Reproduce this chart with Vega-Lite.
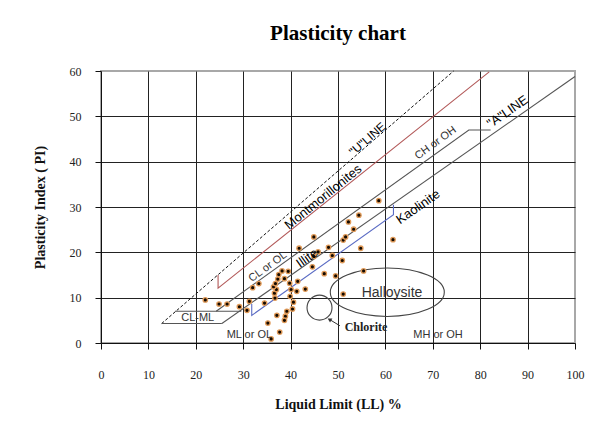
{
  "$schema": "https://vega.github.io/schema/vega-lite/v6.json",
  "width": 474,
  "height": 272,
  "autosize": {"type": "none"},
  "padding": {"left": 101, "top": 71, "right": 22, "bottom": 84},
  "background": "white",
  "title": {"text": "Plasticity chart", "font": "Liberation Serif", "fontSize": 21, "fontWeight": "bold", "color": "#000", "offset": 21, "anchor": "middle"},
  "config": {
    "view": {"stroke": "#a8a8a8", "strokeWidth": 2},
    "axis": {"labelFont": "Liberation Serif", "labelFontSize": 12, "labelColor": "#222", "labelFlush": false, "titleFont": "Liberation Serif", "titleFontWeight": "bold", "titleFontSize": 14, "titleColor": "#111", "domainColor": "#111", "tickColor": "#111", "gridColor": "#222", "gridWidth": 1, "tickSize": 6}
  },
  "datasets": {
    "pts": [
      {"LL": 22.0, "PI": 9.5}, {"LL": 24.9, "PI": 8.6}, {"LL": 26.6, "PI": 8.6}, {"LL": 29.2, "PI": 8.0},
      {"LL": 30.8, "PI": 7.2}, {"LL": 31.3, "PI": 9.2}, {"LL": 32.0, "PI": 12.2}, {"LL": 33.3, "PI": 13.1},
      {"LL": 34.5, "PI": 8.8}, {"LL": 35.2, "PI": 4.4}, {"LL": 35.9, "PI": 0.9}, {"LL": 37.7, "PI": 2.4},
      {"LL": 37.1, "PI": 6.1}, {"LL": 38.9, "PI": 5.9}, {"LL": 38.7, "PI": 5.0}, {"LL": 39.2, "PI": 7.0},
      {"LL": 40.4, "PI": 7.5}, {"LL": 40.6, "PI": 9.0}, {"LL": 39.9, "PI": 10.3}, {"LL": 41.3, "PI": 11.4},
      {"LL": 43.1, "PI": 11.9}, {"LL": 40.1, "PI": 11.8}, {"LL": 39.8, "PI": 13.2}, {"LL": 41.5, "PI": 13.6},
      {"LL": 36.6, "PI": 11.0}, {"LL": 37.0, "PI": 11.8}, {"LL": 36.4, "PI": 12.4}, {"LL": 36.8, "PI": 13.1},
      {"LL": 37.3, "PI": 14.1}, {"LL": 37.5, "PI": 15.1}, {"LL": 38.2, "PI": 15.9}, {"LL": 38.7, "PI": 14.2},
      {"LL": 39.5, "PI": 15.8}, {"LL": 36.7, "PI": 9.9}, {"LL": 44.6, "PI": 16.8}, {"LL": 44.9, "PI": 19.1},
      {"LL": 47.1, "PI": 15.3}, {"LL": 49.5, "PI": 14.8}, {"LL": 51.1, "PI": 10.8}, {"LL": 55.4, "PI": 15.9},
      {"LL": 45.8, "PI": 20.1}, {"LL": 41.8, "PI": 20.9}, {"LL": 48.0, "PI": 21.1}, {"LL": 48.8, "PI": 19.3},
      {"LL": 50.9, "PI": 18.2}, {"LL": 54.8, "PI": 20.9}, {"LL": 44.9, "PI": 23.4}, {"LL": 51.1, "PI": 22.7},
      {"LL": 51.6, "PI": 23.4}, {"LL": 53.3, "PI": 25.1}, {"LL": 52.2, "PI": 26.7}, {"LL": 54.4, "PI": 28.2},
      {"LL": 58.6, "PI": 31.4}, {"LL": 61.6, "PI": 22.8}
    ]
  },
  "encoding": {
    "x": {"field": "LL", "type": "quantitative", "scale": {"domain": [0, 100], "nice": false},
      "axis": {"title": "Liquid Limit (LL) %", "values": [0, 10, 20, 30, 40, 50, 60, 70, 80, 90, 100], "labelPadding": 20, "titlePadding": 17, "gridOpacity": {"condition": {"test": "datum.value == 100 || datum.value == 0", "value": 0}, "value": 1}}},
    "y": {"field": "PI", "type": "quantitative", "scale": {"domain": [0, 60], "nice": false},
      "axis": {"title": "Plasticity Index ( PI)", "values": [0, 10, 20, 30, 40, 50, 60], "labelPadding": 14, "titlePadding": 22, "gridOpacity": {"condition": {"test": "datum.value == 60 || datum.value == 0", "value": 0}, "value": 1}}}
  },
  "layer": [
    {
      "data": {"values": [{"LL": 12.8, "PI": 4.3, "o": 1}, {"LL": 74.4, "PI": 60, "o": 2}]},
      "mark": {"type": "line", "color": "#111", "strokeWidth": 1, "strokeDash": [3, 2]},
      "encoding": {"order": {"field": "o"}}
    },
    {
      "data": {"values": [{"LL": 24.7, "PI": 15.0, "o": 1}, {"LL": 24.7, "PI": 12.1, "o": 2}, {"LL": 81.9, "PI": 59.8, "o": 3}]},
      "mark": {"type": "line", "color": "#b35a5a", "strokeWidth": 1.1},
      "encoding": {"order": {"field": "o"}}
    },
    {
      "data": {"values": [
        {"seg": "A", "LL": 25.5, "PI": 4.3, "o": 1}, {"seg": "A", "LL": 100, "PI": 58.8, "o": 2},
        {"seg": "CH", "LL": 24.3, "PI": 7.0, "o": 1}, {"seg": "CH", "LL": 77.6, "PI": 47.0, "o": 2}, {"seg": "CH", "LL": 82.2, "PI": 47.0, "o": 3},
        {"seg": "bottom", "LL": 12.8, "PI": 4.3, "o": 1}, {"seg": "bottom", "LL": 25.5, "PI": 4.3, "o": 2},
        {"seg": "top", "LL": 15.6, "PI": 7.0, "o": 1}, {"seg": "top", "LL": 29.6, "PI": 7.0, "o": 2}
      ]},
      "mark": {"type": "line", "color": "#555", "strokeWidth": 1.1},
      "encoding": {"detail": {"field": "seg"}, "order": {"field": "o"}}
    },
    {
      "data": {"values": [{"LL": 31.8, "PI": 8.6, "o": 1}, {"LL": 31.8, "PI": 6.1, "o": 2}, {"LL": 61.7, "PI": 28.3, "o": 3}, {"LL": 61.7, "PI": 30.5, "o": 4}]},
      "mark": {"type": "line", "color": "#5b6cc4", "strokeWidth": 1.1},
      "encoding": {"order": {"field": "o"}}
    },
    {
      "data": {"values": [{"name": "Halloysite", "LL": 60.4, "PI": 11.2}]},
      "mark": {"type": "point", "shape": "M-1,0A1,0.425,0,1,1,1,0A1,0.425,0,1,1,-1,0Z", "size": 12996, "filled": false, "color": "#444", "strokeWidth": 1.1, "opacity": 1}
    },
    {
      "data": {"values": [{"name": "Chlorite", "LL": 46.1, "PI": 7.8}]},
      "mark": {"type": "point", "shape": "circle", "size": 625, "filled": false, "color": "#444", "strokeWidth": 1.1, "opacity": 1}
    },
    {
      "data": {"values": [{"LL": 50.4, "PI": 3.8, "LL2": 48.2, "PI2": 5.2}]},
      "mark": {"type": "rule", "color": "#333", "strokeWidth": 1},
      "encoding": {"x2": {"field": "LL2"}, "y2": {"field": "PI2"}}
    },
    {
      "data": {"values": [{"LL": 48.2, "PI": 5.2}]},
      "mark": {"type": "point", "shape": "triangle-up", "size": 22, "filled": true, "color": "#333", "angle": -60, "opacity": 1}
    },
    {
      "data": {"name": "pts"},
      "mark": {"type": "point", "filled": true, "size": 20, "fill": "#140a00", "stroke": "#e09a58", "strokeWidth": 1.3, "opacity": 1}
    },
    {
      "data": {"values": [{"t": "Montmorillonites", "LL": 46.9, "PI": 32.2}]},
      "mark": {"type": "text", "font": "Liberation Sans", "fontSize": 13, "color": "#000", "angle": -39, "align": "center", "baseline": "middle"},
      "encoding": {"text": {"field": "t"}}
    },
    {
      "data": {"values": [{"t": "\"U\"LINE", "LL": 56.2, "PI": 45.0}]},
      "mark": {"type": "text", "font": "Liberation Sans", "fontSize": 12, "color": "#000", "angle": -41, "align": "center", "baseline": "middle"},
      "encoding": {"text": {"field": "t"}}
    },
    {
      "data": {"values": [{"t": "\"A\"LINE", "LL": 85.8, "PI": 51.0}, {"t": "Kaolinite", "LL": 66.9, "PI": 30.0}, {"t": "Illite", "LL": 43.5, "PI": 18.7}]},
      "mark": {"type": "text", "font": "Liberation Sans", "fontSize": 13, "color": "#000", "angle": -35, "align": "center", "baseline": "middle"},
      "encoding": {"text": {"field": "t"}}
    },
    {
      "data": {"values": [{"t": "CL or OL", "LL": 35.2, "PI": 16.8}, {"t": "CH or OH", "LL": 70.6, "PI": 44.1}]},
      "mark": {"type": "text", "font": "Liberation Sans", "fontSize": 11, "color": "#333", "angle": -36, "align": "center", "baseline": "middle"},
      "encoding": {"text": {"field": "t"}}
    },
    {
      "data": {"values": [{"t": "CL-ML", "LL": 20.4, "PI": 5.5}, {"t": "ML or OL", "LL": 31.3, "PI": 1.8}, {"t": "MH or OH", "LL": 71.1, "PI": 1.7}]},
      "mark": {"type": "text", "font": "Liberation Sans", "fontSize": 11, "color": "#333", "align": "center", "baseline": "middle"},
      "encoding": {"text": {"field": "t"}}
    },
    {
      "data": {"values": [{"t": "Halloysite", "LL": 61.4, "PI": 11.0}]},
      "mark": {"type": "text", "font": "Liberation Sans", "fontSize": 14, "color": "#333", "align": "center", "baseline": "middle"},
      "encoding": {"text": {"field": "t"}}
    },
    {
      "data": {"values": [{"t": "Chlorite", "LL": 51.4, "PI": 3.6}]},
      "mark": {"type": "text", "font": "Liberation Serif", "fontSize": 12, "fontWeight": "bold", "color": "#222", "align": "left", "baseline": "middle"},
      "encoding": {"text": {"field": "t"}}
    }
  ]
}
